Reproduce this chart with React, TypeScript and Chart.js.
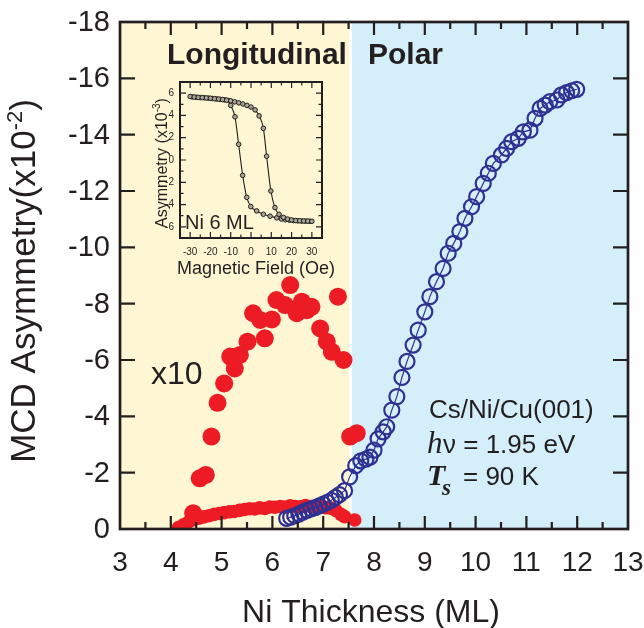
import React, { useEffect, useRef } from "react";
import { Chart, registerables } from "chart.js";

Chart.register(...registerables);

// ---------------- data ----------------
const xTickValues = [3, 4, 5, 6, 7, 8, 9, 10, 11, 12, 13];
const yTickValues = [0, -2, -4, -6, -8, -10, -12, -14, -16, -18];
const regionSplit = 7.54; // Longitudinal | Polar boundary (ML)

// Polar MCD (open blue circles)
const polarThickness = [
  6.28, 6.36, 6.44, 6.52, 6.6, 6.68, 6.76, 6.84, 6.92, 7.0, 7.08, 7.16, 7.24, 7.32, 7.42,
  7.52, 7.64, 7.74, 7.84, 7.92, 8.0, 8.08, 8.18, 8.25, 8.35, 8.45, 8.55, 8.65, 8.77, 8.87,
  9.0, 9.1, 9.23, 9.36, 9.46, 9.57, 9.69, 9.79, 9.92, 10.02, 10.15, 10.25, 10.35, 10.51,
  10.61, 10.71, 10.84, 10.94, 11.07, 11.17, 11.27, 11.37, 11.46, 11.6, 11.69, 11.79, 11.89, 11.99,
];
const polarAsym = [
  -0.38, -0.42, -0.47, -0.53, -0.6, -0.66, -0.71, -0.76, -0.82, -0.88, -0.95, -1.02, -1.12, -1.22, -1.36,
  -1.85, -2.25, -2.42, -2.48, -2.55, -2.8, -3.2, -3.45, -3.63, -4.22, -4.7, -5.38, -5.95, -6.53, -7.06,
  -7.71, -8.25, -8.78, -9.25, -9.79, -10.14, -10.56, -11.03, -11.44, -11.8, -12.27, -12.63, -12.98, -13.28,
  -13.51, -13.75, -13.87, -14.1, -14.16, -14.58, -14.93, -15.05, -15.17, -15.23, -15.41, -15.49, -15.56, -15.61,
];

// Longitudinal MCD x10 (large red dots)
const longX10Thickness = [
  4.44, 4.57, 4.69, 4.8, 4.92, 5.05, 5.17, 5.26, 5.36, 5.51, 5.62, 5.76, 5.85, 5.99,
  6.08, 6.25, 6.35, 6.48, 6.58, 6.68, 6.77, 6.94, 7.07, 7.17, 7.29, 7.4, 7.53, 7.66,
];
const longX10Asym = [
  -0.56, -1.8, -1.92, -3.28, -4.48, -5.17, -6.12, -5.7, -6.18, -6.65, -7.66, -7.42, -6.77, -7.44,
  -8.13, -7.95, -8.66, -7.66, -8.07, -7.77, -7.89, -7.12, -6.65, -6.29, -8.25, -6.0, -3.28, -3.4,
];

// Longitudinal MCD (small red dots, unscaled)
const longThickness = [
  4.15, 4.25, 4.35, 4.45, 4.55, 4.65, 4.75, 4.85, 4.95, 5.05, 5.15, 5.25, 5.35, 5.45, 5.55,
  5.65, 5.75, 5.85, 5.95, 6.05, 6.15, 6.25, 6.35, 6.45, 6.55, 6.65, 6.75, 6.85, 6.95, 7.05,
  7.15, 7.25, 7.35, 7.42, 7.62,
];
const longAsym = [
  -0.05, -0.15, -0.25, -0.33, -0.38, -0.43, -0.47, -0.52, -0.55, -0.58, -0.61, -0.62, -0.66, -0.69, -0.72,
  -0.71, -0.75, -0.73, -0.78, -0.77, -0.8, -0.78, -0.82, -0.8, -0.79, -0.83, -0.8, -0.78, -0.8, -0.76,
  -0.74, -0.66, -0.52, -0.44, -0.32,
];

// Inset hysteresis loop, Ni 6 ML
const insetXTicks = [-30, -20, -10, 0, 10, 20, 30];
const insetYTicks = [-6, -4, -2, 0, 2, 4, 6];
const loopUpField = [
  -30, -28, -26, -24, -22, -20, -18, -16, -14, -12, -10, -8, -6, -4, -2, 0, 2, 4, 6.1, 7.7,
  9.8, 11.8, 13.8, 16, 18, 20, 22, 24, 26, 28, 30,
];
const loopUpAsym = [
  5.7, 5.65, 5.62, 5.6, 5.57, 5.54, 5.5, 5.47, 5.42, 5.37, 5.31, 5.22, 5.13, 5.03, 4.9, 4.75, 4.5, 3.96, 2.84, 0.34,
  -2.78, -4.27, -4.87, -5.15, -5.3, -5.38, -5.43, -5.45, -5.47, -5.48, -5.5,
];
const loopDownField = [
  -29, -27, -25, -23, -21, -19, -17, -15, -13, -11, -10, -7.9, -6.1, -4.1, -2.1, -0.1, 2.8, 6.1,
  9.4, 12.7, 15, 17, 19, 21, 23, 25, 27, 29,
];
const loopDownAsym = [
  5.66, 5.63, 5.6, 5.58, 5.55, 5.52, 5.48, 5.44, 5.4, 5.34, 4.9, 3.88, 1.41, -1.38, -3.35, -4.18, -4.57, -4.87,
  -5.04, -5.19, -5.3, -5.36, -5.4, -5.44, -5.46, -5.48, -5.49, -5.5,
];

// ---------------- styles ----------------
const SANS = '"Liberation Sans", Arial, Helvetica, sans-serif';
const SERIF = '"Liberation Serif", "Times New Roman", serif';
const INK = "#231f20";
const RED = "#ed1c24";
const NAVY = "#2e3192";
const YELLOW = "#fff6d4";
const SKY = "#d4eefa";

const pts = (xs: number[], ys: number[]) => xs.map((x, i) => ({ x, y: ys[i] }));

function text(ctx: CanvasRenderingContext2D, s: string, x: number, y: number, font: string, align: CanvasTextAlign = "left", base: CanvasTextBaseline = "alphabetic") {
  ctx.font = font;
  ctx.textAlign = align;
  ctx.textBaseline = base;
  ctx.fillText(s, x, y);
  return ctx.measureText(s).width;
}

const mainDeco = {
  id: "mainDeco",
  beforeDatasetsDraw(chart: any) {
    const { ctx, chartArea: a } = chart;
    const xs = chart.scales.x;
    const xb = xs.getPixelForValue(regionSplit);
    ctx.save();
    ctx.fillStyle = YELLOW;
    ctx.fillRect(a.left, a.top, xb - 1.3 - a.left, a.bottom - a.top);
    ctx.fillStyle = SKY;
    ctx.fillRect(xb + 1.3, a.top, a.right - xb - 1.3, a.bottom - a.top);
    ctx.restore();
  },
  afterDatasetsDraw(chart: any) {
    const { ctx, chartArea: a } = chart;
    const xs = chart.scales.x;
    const ys = chart.scales.y;
    ctx.save();
    ctx.strokeStyle = INK;
    ctx.fillStyle = INK;
    // ticks
    ctx.lineWidth = 2.2;
    ctx.beginPath();
    for (let i = 0; i < xTickValues.length; i++) {
      const v = xTickValues[i];
      if (i > 0 && i < xTickValues.length - 1) {
        const p = xs.getPixelForValue(v);
        ctx.moveTo(p, a.bottom); ctx.lineTo(p, a.bottom - 13);
        ctx.moveTo(p, a.top); ctx.lineTo(p, a.top + 13);
      }
      if (i < xTickValues.length - 1) {
        const m = xs.getPixelForValue((v + xTickValues[i + 1]) / 2);
        ctx.moveTo(m, a.bottom); ctx.lineTo(m, a.bottom - 7);
        ctx.moveTo(m, a.top); ctx.lineTo(m, a.top + 7);
      }
    }
    for (let i = 1; i < yTickValues.length - 1; i++) {
      const p = ys.getPixelForValue(yTickValues[i]);
      ctx.moveTo(a.left, p); ctx.lineTo(a.left + 15, p);
      ctx.moveTo(a.right, p); ctx.lineTo(a.right - 15, p);
    }
    ctx.stroke();
    // frame
    ctx.lineWidth = 2.7;
    ctx.strokeRect(a.left, a.top, a.right - a.left, a.bottom - a.top);

    // tick labels
    for (const v of yTickValues) {
      text(ctx, String(v), a.left - 10, ys.getPixelForValue(v) + 1, `29px ${SANS}`, "right", "middle");
    }
    for (const v of xTickValues) {
      text(ctx, String(v), xs.getPixelForValue(v), a.bottom + 42, `28px ${SANS}`, "center", "alphabetic");
    }
    // x title
    text(ctx, "Ni Thickness (ML)", (a.left + a.right) / 2 - 3, 621.5, `32px ${SANS}`, "center");
    // y title with superscript
    ctx.save();
    ctx.translate(35, 281);
    ctx.rotate(-Math.PI / 2);
    const p1 = "MCD Asymmetry(x10", p2 = "-2", p3 = ")";
    ctx.font = `35px ${SANS}`; const w1 = ctx.measureText(p1).width; const w3 = ctx.measureText(p3).width;
    ctx.font = `22px ${SANS}`; const w2 = ctx.measureText(p2).width;
    const sx = -(w1 + w2 + w3) / 2;
    text(ctx, p1, sx, 0, `35px ${SANS}`);
    text(ctx, p2, sx + w1, -13, `22px ${SANS}`);
    text(ctx, p3, sx + w1 + w2, 0, `35px ${SANS}`);
    ctx.restore();

    // region labels
    text(ctx, "Longitudinal", 167, 64, `bold 30px ${SANS}`);
    text(ctx, "Polar", 368, 64, `bold 30px ${SANS}`);
    text(ctx, "x10", 151, 384, `32px ${SANS}`);

    // sample info
    text(ctx, "Cs/Ni/Cu(001)", 429, 418, `26px ${SANS}`);
    text(ctx, "h", 427, 453, `italic 31px ${SERIF}`);
    text(ctx, "\u03bd = 1.95 eV", 443, 453, `26px ${SANS}`);
    text(ctx, "T", 427, 485, `bold italic 30px ${SERIF}`);
    text(ctx, "s", 442, 495, `bold italic 23px ${SERIF}`);
    text(ctx, "= 90 K", 463, 485, `26px ${SANS}`);
    ctx.restore();
  },
};

const insetDeco = {
  id: "insetDeco",
  afterDatasetsDraw(chart: any) {
    const { ctx, chartArea: a } = chart;
    const xs = chart.scales.x;
    const ys = chart.scales.y;
    ctx.save();
    ctx.strokeStyle = INK;
    ctx.fillStyle = INK;
    ctx.lineWidth = 1.2;
    ctx.beginPath();
    for (let i = 0; i < insetXTicks.length; i++) {
      const p = xs.getPixelForValue(insetXTicks[i]);
      ctx.moveTo(p, a.bottom); ctx.lineTo(p, a.bottom - 6);
      ctx.moveTo(p, a.top); ctx.lineTo(p, a.top + 6);
      if (i < insetXTicks.length - 1) {
        const m = xs.getPixelForValue((insetXTicks[i] + insetXTicks[i + 1]) / 2);
        ctx.moveTo(m, a.bottom); ctx.lineTo(m, a.bottom - 3.5);
        ctx.moveTo(m, a.top); ctx.lineTo(m, a.top + 3.5);
      }
    }
    for (let i = 0; i < insetYTicks.length; i++) {
      const p = ys.getPixelForValue(insetYTicks[i]);
      ctx.moveTo(a.left, p); ctx.lineTo(a.left + 6, p);
      ctx.moveTo(a.right, p); ctx.lineTo(a.right - 6, p);
      if (i < insetYTicks.length - 1) {
        const m = ys.getPixelForValue((insetYTicks[i] + insetYTicks[i + 1]) / 2);
        ctx.moveTo(a.left, m); ctx.lineTo(a.left + 3.5, m);
        ctx.moveTo(a.right, m); ctx.lineTo(a.right - 3.5, m);
      }
    }
    ctx.stroke();
    ctx.lineWidth = 2;
    ctx.strokeRect(a.left, a.top, a.right - a.left, a.bottom - a.top);

    for (const v of insetYTicks) {
      text(ctx, String(v), a.left - 6, ys.getPixelForValue(v), `10px ${SANS}`, "right", "middle");
    }
    for (const v of insetXTicks) {
      text(ctx, String(v), xs.getPixelForValue(v), a.bottom + 17, `10px ${SANS}`, "center");
    }
    text(ctx, "Magnetic Field (Oe)", (a.left + a.right) / 2 + 5, a.bottom + 36, `18px ${SANS}`, "center");
    ctx.save();
    ctx.translate(27, (a.top + a.bottom) / 2 + 3);
    ctx.rotate(-Math.PI / 2);
    const p1 = "Asymmetry (x10", p2 = "-3", p3 = ")";
    ctx.font = `16px ${SANS}`; const w1 = ctx.measureText(p1).width; const w3 = ctx.measureText(p3).width;
    ctx.font = `10px ${SANS}`; const w2 = ctx.measureText(p2).width;
    const sx = -(w1 + w2 + w3) / 2;
    text(ctx, p1, sx, 0, `16px ${SANS}`);
    text(ctx, p2, sx + w1, -7, `10px ${SANS}`);
    text(ctx, p3, sx + w1 + w2, 0, `16px ${SANS}`);
    ctx.restore();
    text(ctx, "Ni 6 ML", a.left + 5, a.bottom - 9, `20px ${SANS}`);
    ctx.restore();
  },
};

function MainChart() {
  const ref = useRef<HTMLCanvasElement>(null);
  useEffect(() => {
    const chart = new Chart(ref.current!, {
      type: "scatter",
      data: {
        datasets: [
          {
            label: "Polar",
            data: pts(polarThickness, polarAsym),
            showLine: true,
            borderColor: NAVY,
            borderWidth: 1.2,
            pointRadius: 7.5,
            pointBorderWidth: 2.2,
            pointBorderColor: NAVY,
            pointBackgroundColor: "rgba(0,0,0,0)",
          },
          {
            label: "Longitudinal x10",
            data: pts(longX10Thickness, longX10Asym),
            showLine: false,
            pointRadius: 9,
            pointBorderWidth: 0,
            pointBackgroundColor: RED,
            borderColor: RED,
          },
          {
            label: "Longitudinal",
            data: pts(longThickness, longAsym),
            showLine: false,
            pointRadius: 6.8,
            pointBorderWidth: 0,
            pointBackgroundColor: RED,
            borderColor: RED,
          },
        ],
      },
      options: {
        responsive: false,
        animation: false,
        devicePixelRatio: 1,
        events: [],
        layout: { padding: { left: 120, right: 16, top: 22, bottom: 99 } },
        scales: {
          x: { type: "linear", min: 3, max: 13, display: false },
          y: { type: "linear", min: -18, max: 0, reverse: true, display: false },
        },
        plugins: { legend: { display: false }, tooltip: { enabled: false } },
      },
      plugins: [mainDeco],
    } as any);
    return () => chart.destroy();
  }, []);
  return (
    <canvas
      ref={ref}
      width={644}
      height={628}
      style={{ position: "absolute", left: 0, top: 0, width: 644, height: 628 }}
    />
  );
}

function InsetChart() {
  const ref = useRef<HTMLCanvasElement>(null);
  useEffect(() => {
    const common = {
      showLine: true,
      cubicInterpolationMode: "monotone",
      borderColor: INK,
      borderWidth: 1.1,
      pointRadius: 2.3,
      pointBorderWidth: 1,
      pointBorderColor: INK,
      pointBackgroundColor: "#a8a496",
    };
    const chart = new Chart(ref.current!, {
      type: "scatter",
      data: {
        datasets: [
          { label: "up", data: pts(loopUpField, loopUpAsym), ...common },
          { label: "down", data: pts(loopDownField, loopDownAsym), ...common },
        ],
      },
      options: {
        responsive: false,
        animation: false,
        devicePixelRatio: 1,
        events: [],
        layout: { padding: { left: 40, right: 18, top: 10, bottom: 44 } },
        scales: {
          x: { type: "linear", min: -35, max: 35, display: false },
          y: { type: "linear", min: -7, max: 7, display: false },
        },
        plugins: { legend: { display: false }, tooltip: { enabled: false } },
      },
      plugins: [insetDeco],
    } as any);
    return () => chart.destroy();
  }, []);
  return (
    <canvas
      ref={ref}
      width={200}
      height={210}
      style={{ position: "absolute", left: 140, top: 72, width: 200, height: 210, pointerEvents: "none" }}
    />
  );
}

export default function App() {
  return (
    <div style={{ position: "absolute", left: 0, top: 0, width: 644, height: 628, background: "#ffffff" }}>
      <MainChart />
      <InsetChart />
    </div>
  );
}
